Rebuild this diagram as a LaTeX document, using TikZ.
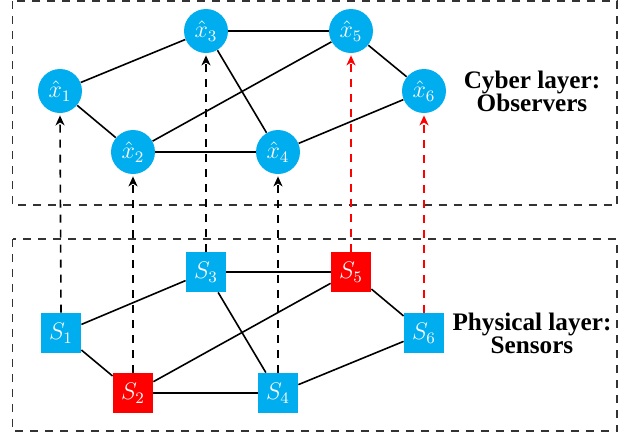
\documentclass[tikz,border=0pt]{standalone}
\usepackage{fontspec}
\setmainfont{Liberation Serif}
\usetikzlibrary{arrows.meta}
\definecolor{procblue}{cmyk}{1,0,0,0}
\definecolor{alertred}{RGB}{255,0,0}
\tikzset{
  layerbox/.style={draw=black!80, line width=0.65pt, dash pattern=on 4pt off 3.5pt},
  observer/.style={circle, fill=procblue, minimum size=22pt, inner sep=0pt, text=white, font=\large},
  sensor/.style={rectangle, fill=procblue, minimum size=20pt, inner sep=0pt, text=white, font=\large},
  attacked/.style={fill=alertred},
  link/.style={line width=0.8pt, black},
  feed/.style={line width=0.8pt, dash pattern=on 4pt off 3.5pt, -{Stealth[length=5pt,width=4.5pt,inset=1.5pt]}},
  layerlabel/.style={align=center, font=\fontsize{12.6}{11.5}\selectfont\bfseries}
}
\begin{document}
\begin{tikzpicture}[x=0.5pt,y=-0.5pt]
  \useasboundingbox (0,0) rectangle (628,435);

  % layer frames
  \draw[layerbox] (12.5,1) rectangle (617,205);
  \draw[layerbox] (12.5,239) rectangle (617,431);

  % cyber layer: observers
  \node[observer] (x1) at (60,91)  {$\hat{x}_1$};
  \node[observer] (x2) at (133,152) {$\hat{x}_2$};
  \node[observer] (x3) at (206,31)  {$\hat{x}_3$};
  \node[observer] (x4) at (278,152) {$\hat{x}_4$};
  \node[observer] (x5) at (351,31)  {$\hat{x}_5$};
  \node[observer] (x6) at (424,91)  {$\hat{x}_6$};

  % physical layer: sensors
  \node[sensor] (s1) at (61,333)  {$S_1$};
  \node[sensor, attacked] (s2) at (133,393) {$S_2$};
  \node[sensor] (s3) at (206,272) {$S_3$};
  \node[sensor] (s4) at (278,393) {$S_4$};
  \node[sensor, attacked] (s5) at (351,272) {$S_5$};
  \node[sensor] (s6) at (424,333) {$S_6$};

  % communication graph among observers
  \draw[link] (x1) -- (x3);
  \draw[link] (x1) -- (x2);
  \draw[link] (x2) -- (x4);
  \draw[link] (x2) -- (x5);
  \draw[link] (x3) -- (x5);
  \draw[link] (x3) -- (x4);
  \draw[link] (x4) -- (x6);
  \draw[link] (x5) -- (x6);

  % physical coupling among sensors
  \draw[link] (s1) -- (s3);
  \draw[link] (s1) -- (s2);
  \draw[link] (s2) -- (s4);
  \draw[link] (s2) -- (s5);
  \draw[link] (s3) -- (s5);
  \draw[link] (s3) -- (s4);
  \draw[link] (s4) -- (s6);
  \draw[link] (s5) -- (s6);

  % measurements sent up to the observers
  \draw[feed, black] (s1.north) -- ([yshift=-1pt]x1.south);
  \draw[feed, black] (s2.north) -- ([yshift=-1pt]x2.south);
  \draw[feed, black] (s3.north) -- ([yshift=-1pt]x3.south);
  \draw[feed, black] (s4.north) -- ([yshift=-1pt]x4.south);
  \draw[feed, alertred] (s5.north) -- ([yshift=-1pt]x5.south);
  \draw[feed, alertred] (s6.north) -- ([yshift=-1pt]x6.south);

  % layer captions
  \node[layerlabel] (cyber) at (532,91) {Cyber layer:\\Observers};
  \node[layerlabel] (phys) at (532,333) {Physical layer:\\Sensors};
\end{tikzpicture}
\end{document}
